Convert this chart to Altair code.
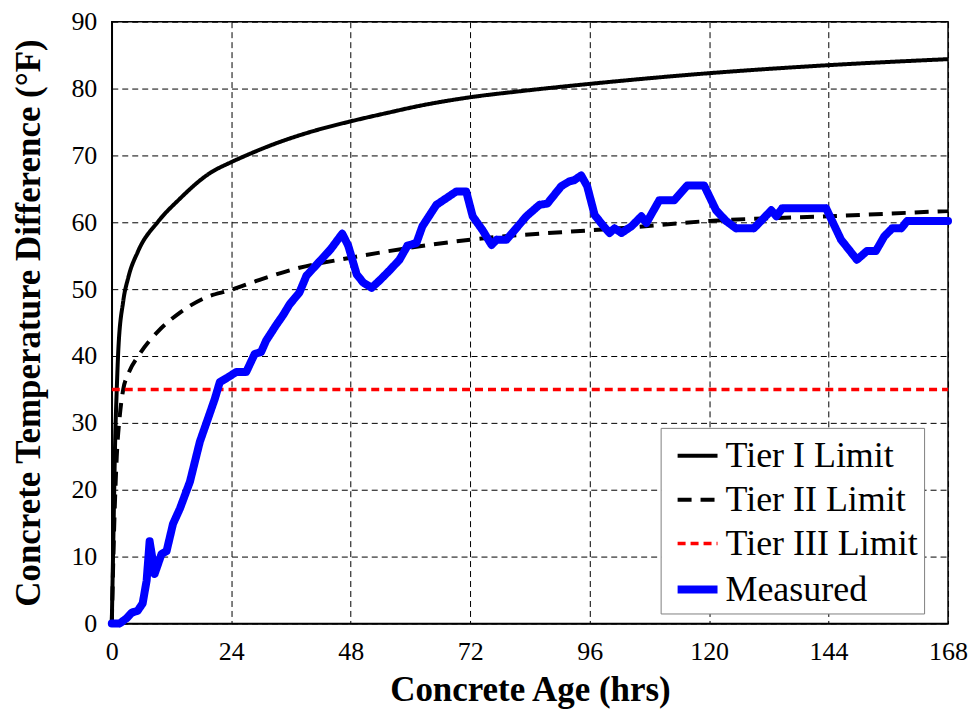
import altair as alt
import pandas as pd

# Tier I limit (hrs, °F)
tier1_t = [0, 0.3, 0.7, 1.0, 1.3, 2.3, 3.3, 5.3, 9.3, 13.5, 19.6, 24, 27, 33.7, 40.3, 48, 55, 61.7, 72, 82, 96, 120, 144, 168]
tier1_v = [0, 12, 28, 35, 40.7, 48.2, 51.7, 55.7, 60.1, 63.4, 67.3, 69.0, 70.0, 72.0, 73.6, 75.1, 76.3, 77.4, 78.7, 79.6, 80.7, 82.3, 83.5, 84.4]

# Tier II limit
tier2_t = [0, 0.5, 1, 1.6, 2.3, 3.3, 5.6, 9.3, 13.7, 18.7, 24, 29.7, 37.7, 48, 60, 72, 96, 102, 120, 144, 168]
tier2_v = [0, 15, 25, 31, 35, 37.3, 40.3, 43.7, 46.5, 48.7, 49.9, 51.4, 53.2, 54.7, 56.2, 57.4, 58.8, 59.1, 60.2, 60.9, 61.7]

# Tier III limit
tier3_t = [0, 168]
tier3_v = [35, 35]

# Measured
meas_t = [0, 1.6, 3, 4, 5.2, 6.2, 7, 7.6, 8.1, 8.6, 10, 11, 12.3, 13.7, 15.7, 17.7, 19.3, 20.7, 21.7,
          23.3, 25, 27, 28.7, 30, 31, 33, 34.4, 35.7, 37.7, 39.1, 41.8, 44, 46.3, 47.5, 49.2, 50.5,
          52.2, 53.8, 55.8, 57.8, 59.4, 61.2, 62.4, 65.2, 67.2, 69.2, 71.2, 72.5, 74.5, 76.3, 77.3,
          79.3, 83.3, 85.9, 87.5, 90.3, 91.9, 92.9, 94.3, 95.5, 97, 98.6, 100, 101, 102.4, 104.4,
          106.4, 107.4, 110, 113, 115.6, 119, 121.4, 123.4, 125.4, 129, 132.5, 133.5, 134.7, 143.5,
          146.5, 149.7, 151.7, 153.5, 155.2, 156.8, 158.6, 159.8, 168]
meas_v = [0, 0, 0.8, 1.6, 1.9, 3, 6.4, 12.3, 10, 7.4, 10.4, 10.8, 14.9, 17.2, 21.2, 27.2, 30.6, 33.6, 36.1,
          36.8, 37.6, 37.6, 40.3, 40.6, 42.3, 44.6, 46.1, 47.7, 49.5, 52, 54.2, 56, 58.3, 56.5, 52.2, 51,
          50.2, 51.3, 52.8, 54.4, 56.5, 56.9, 59.4, 62.6, 63.6, 64.6, 64.6, 60.9, 58.8, 56.6, 57.4,
          57.4, 60.9, 62.6, 62.8, 65.4, 66.1, 66.3, 67.0, 65.4, 61.1, 59.6, 58.4, 59.1, 58.4, 59.4,
          60.9, 59.9, 63.3, 63.3, 65.5, 65.5, 61.8, 60.2, 59.1, 59.1, 61.8, 60.9, 62.1, 62.1,
          57.4, 54.4, 55.7, 55.7, 57.9, 59.1, 59.1, 60.2, 60.2]

series_names = ["Tier I Limit", "Tier II Limit", "Tier III Limit", "Measured"]
series_colors = ["#000000", "#000000", "#ff0000", "#0000ff"]
series_dash = [[1, 0], [14, 9], [8, 5], [1, 0]]
series_width = [4, 4, 3.5, 8]
series_interp = ["monotone", "monotone", "linear", "linear"]
series_cap = ["butt", "butt", "butt", "round"]

x_ticks = [0, 24, 48, 72, 96, 120, 144, 168]
y_ticks = [0, 10, 20, 30, 40, 50, 60, 70, 80, 90]

frames = []
for name, ts, vs in [
    ("Tier I Limit", tier1_t, tier1_v),
    ("Tier II Limit", tier2_t, tier2_v),
    ("Tier III Limit", tier3_t, tier3_v),
    ("Measured", meas_t, meas_v),
]:
    frames.append(pd.DataFrame({"t": ts, "v": vs, "series": name, "idx": range(len(ts))}))
df = pd.concat(frames, ignore_index=True)

FONT = "Liberation Serif, Times New Roman, serif"

x_enc = alt.X("t:Q",
              scale=alt.Scale(domain=[0, 168], nice=False, zero=False),
              axis=alt.Axis(values=x_ticks, title="Concrete Age (hrs)", grid=True,
                            gridDash=[6, 4], gridColor="#000000", gridWidth=1, gridOpacity=1,
                            ticks=False, domainColor="#000000", domainWidth=1.5,
                            labelFont=FONT, labelFontSize=26, labelColor="#000000", labelPadding=15,
                            titleFont=FONT, titleFontSize=35, titleFontWeight="bold",
                            titleColor="#000000", titlePadding=8, labelFlush=False))
y_enc = alt.Y("v:Q",
              scale=alt.Scale(domain=[0, 90], nice=False),
              axis=alt.Axis(values=y_ticks, title="Concrete Temperature Difference (°F)", grid=True,
                            gridDash=[6, 4], gridColor="#000000", gridWidth=1, gridOpacity=1,
                            ticks=False, domainColor="#000000", domainWidth=1.5,
                            labelFont=FONT, labelFontSize=26, labelColor="#000000", labelPadding=15,
                            titleFont=FONT, titleFontSize=35, titleFontWeight="bold",
                            titleColor="#000000", titlePadding=24, labelFlush=False))

leg = alt.Legend(title=None, orient="none", legendX=550, legendY=407,
                 symbolType="stroke", symbolSize=1600, symbolOffset=7,
                 labelFont=FONT, labelFontSize=36, labelColor="#000000", labelLimit=400,
                 labelOffset=4, rowPadding=4, padding=6,
                 strokeColor="#808080", fillColor="#ffffff", symbolOpacity=1)

color_enc = alt.Color("series:N", sort=series_names,
                      scale=alt.Scale(domain=series_names, range=series_colors), legend=leg)
dash_enc = alt.StrokeDash("series:N", sort=series_names,
                          scale=alt.Scale(domain=series_names, range=series_dash), legend=leg)
width_enc = alt.StrokeWidth("series:N", sort=series_names,
                            scale=alt.Scale(type="ordinal", domain=series_names, range=series_width),
                            legend=leg)

layers = []
for name, interp, cap in zip(series_names, series_interp, series_cap):
    layers.append(
        alt.Chart(df).transform_filter(alt.datum.series == name).mark_line(
            strokeCap=cap, strokeJoin="round", interpolate=interp, clip=False
        ).encode(x=x_enc, y=y_enc, color=color_enc, strokeDash=dash_enc,
                 strokeWidth=width_enc, order="idx:Q")
    )

chart = alt.layer(*layers).properties(
    width=838, height=603,
    autosize=alt.AutoSizeParams(type="none"),
    padding={"left": 104, "top": 13, "right": 20, "bottom": 90},
    background="#ffffff",
).configure(font=FONT).configure_axis(labelFont=FONT, titleFont=FONT).configure_legend(
    labelFont=FONT
).configure_view(stroke="#000000", strokeWidth=1.5)

chart.save("out.html", embed_options={"renderer": "svg", "actions": False})
